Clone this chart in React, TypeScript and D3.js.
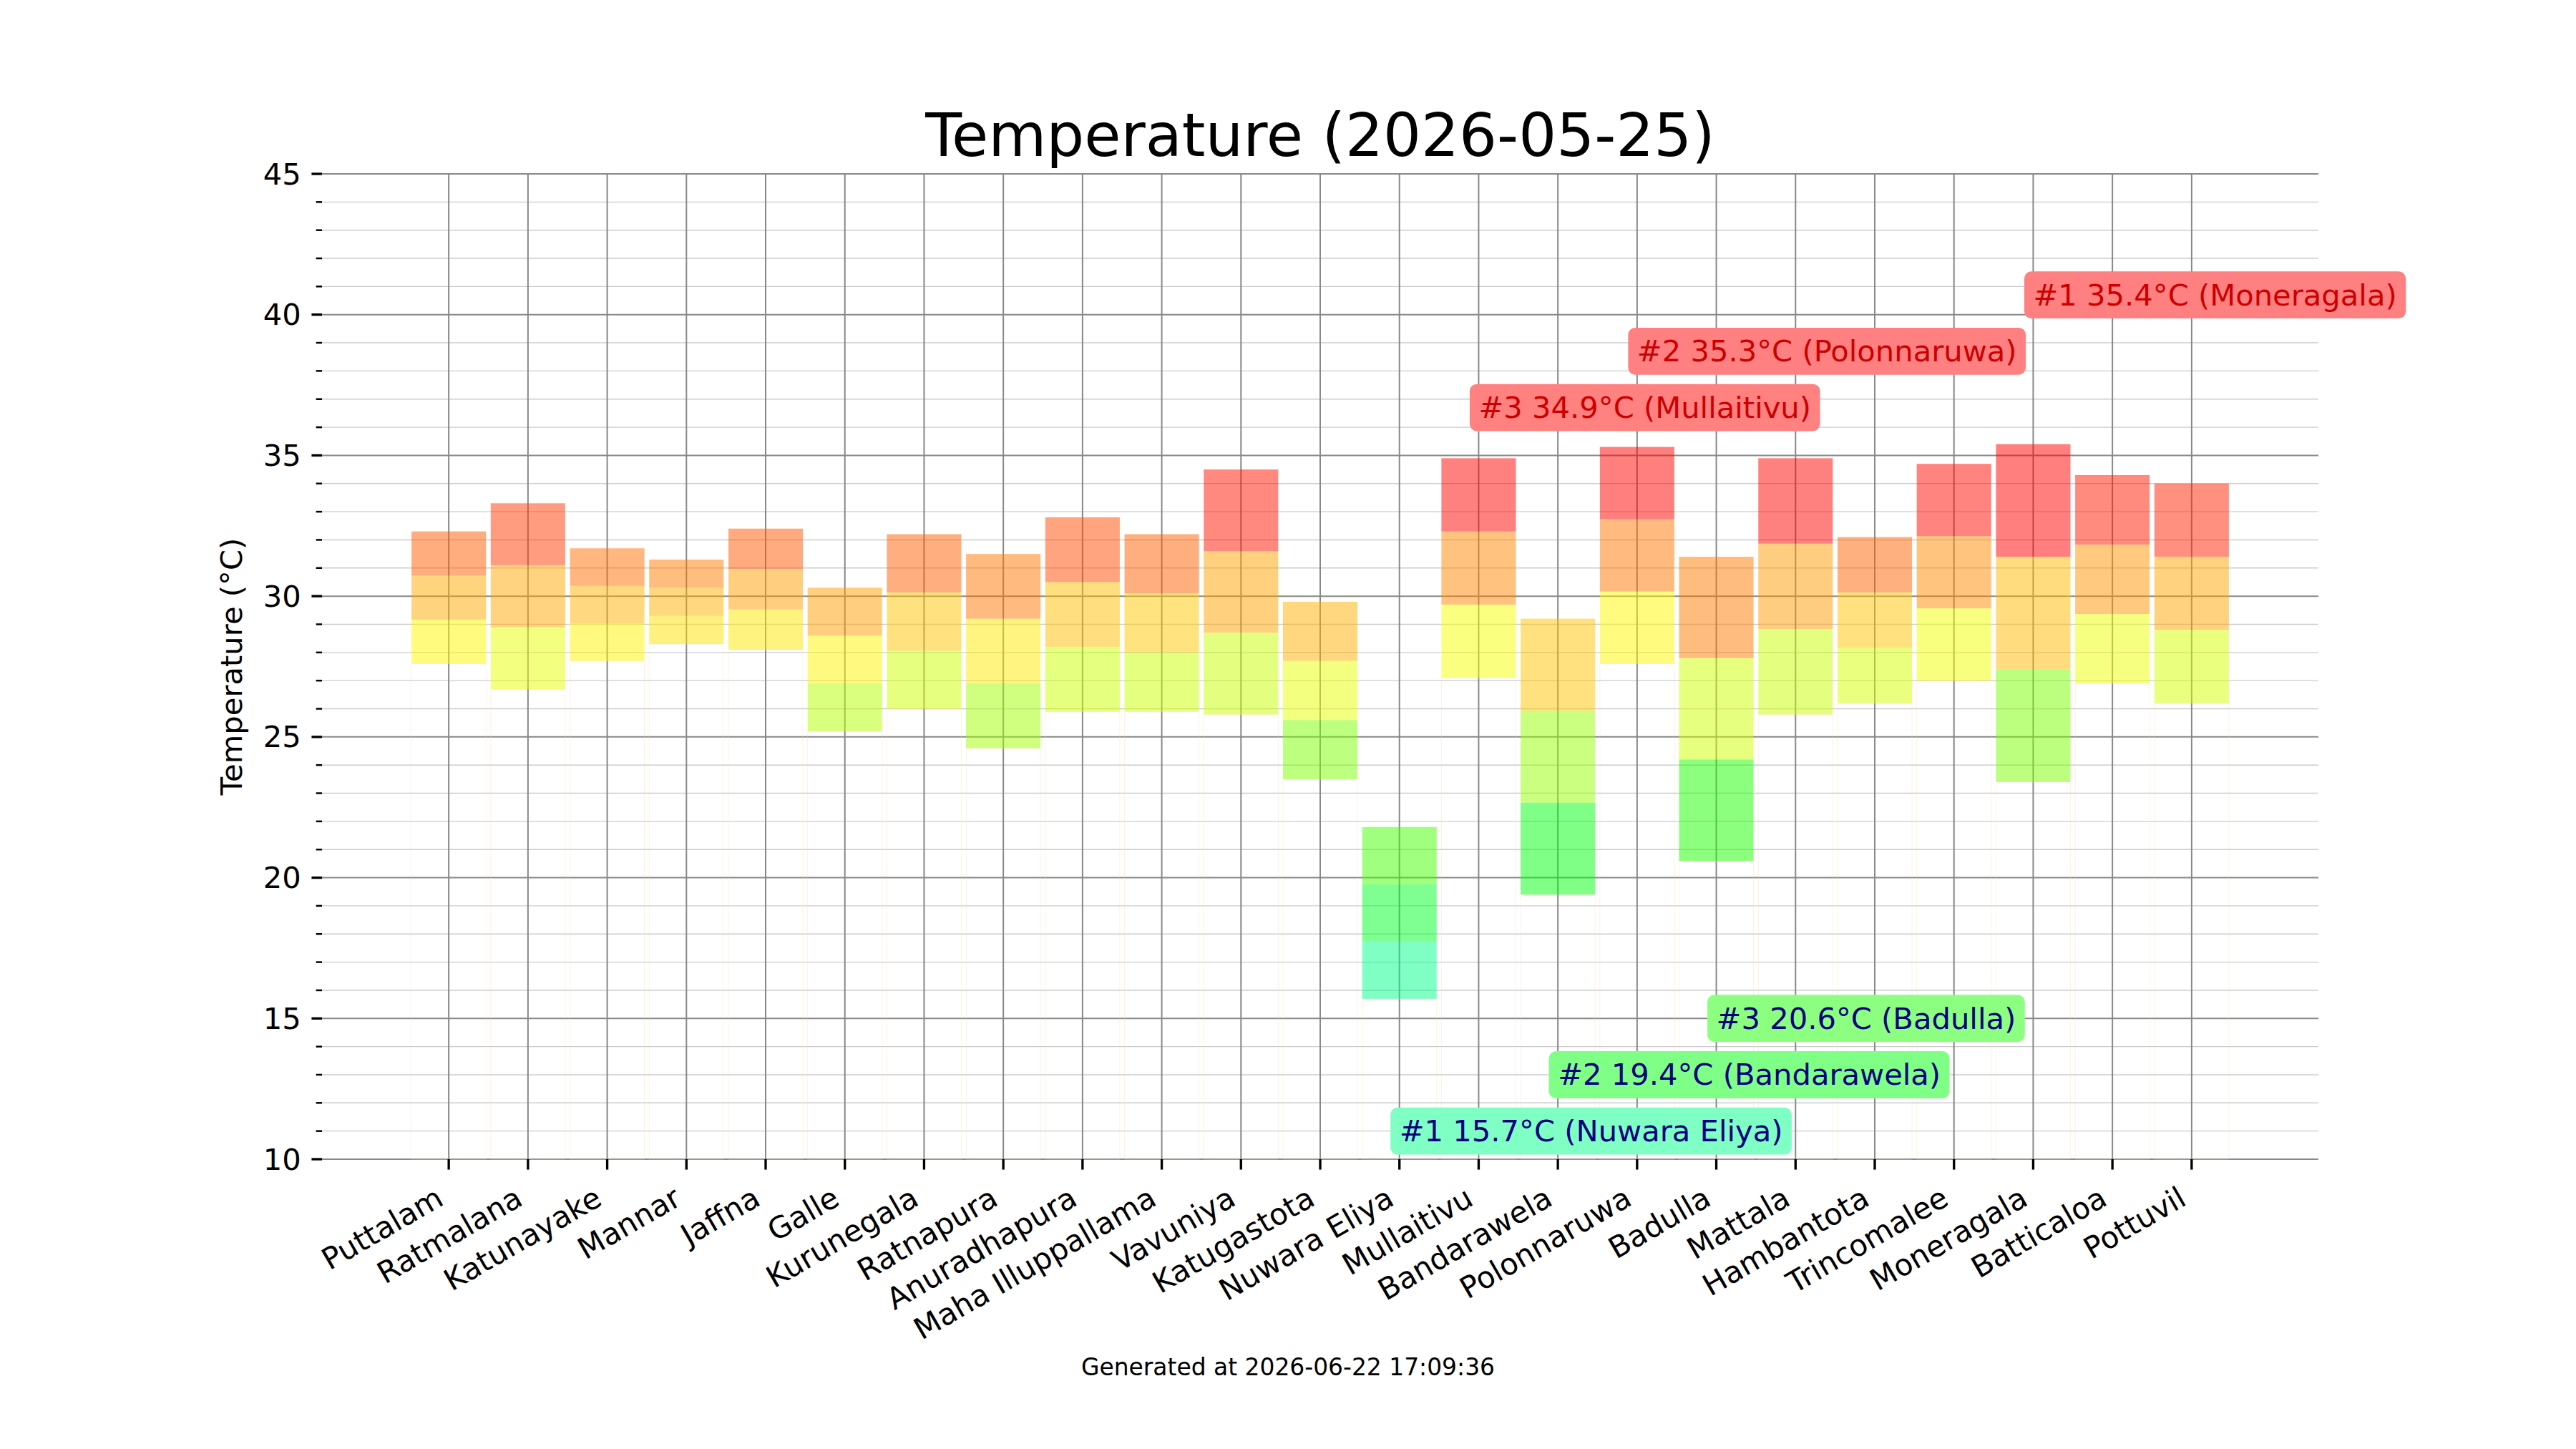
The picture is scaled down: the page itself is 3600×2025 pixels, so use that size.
import { useEffect, useRef } from 'react';
import * as d3 from 'd3';

const stations = [
  'Puttalam', 'Ratmalana', 'Katunayake', 'Mannar', 'Jaffna', 'Galle', 'Kurunegala',
  'Ratnapura', 'Anuradhapura', 'Maha Illuppallama', 'Vavuniya', 'Katugastota',
  'Nuwara Eliya', 'Mullaitivu', 'Bandarawela', 'Polonnaruwa', 'Badulla', 'Mattala',
  'Hambantota', 'Trincomalee', 'Moneragala', 'Batticaloa', 'Pottuvil',
];
const minTemps = [
  27.6, 26.7, 27.7, 28.3, 28.1, 25.2, 26.0, 24.6, 25.9, 25.9, 25.8, 23.5,
  15.7, 27.1, 19.4, 27.6, 20.6, 25.8, 26.2, 27.0, 23.4, 26.9, 26.2,
];
const maxTemps = [
  32.3, 33.3, 31.7, 31.3, 32.4, 30.3, 32.2, 31.5, 32.8, 32.2, 34.5, 29.8,
  21.8, 34.9, 29.2, 35.3, 31.4, 34.9, 32.1, 34.7, 35.4, 34.3, 34.0,
];
const yTicks = [10, 15, 20, 25, 30, 35, 40, 45];
const title = 'Temperature (2026-05-25)';
const yLabel = 'Temperature (°C)';
const footer = 'Generated at 2026-06-22 17:09:36';

const WIDTH = 3600;
const HEIGHT = 2025;
const margin = { top: 243, right: 360, bottom: 405, left: 450 };
const FONT = '"DejaVu Sans", sans-serif';
const PT = 300 / 72;

export default function App() {
  const svgRef = useRef<SVGSVGElement>(null);

  useEffect(() => {
    if (!svgRef.current) return;
    const root = d3.select(svgRef.current);
    root.selectAll('*').remove();

    const innerWidth = WIDTH - margin.left - margin.right;
    const innerHeight = HEIGHT - margin.top - margin.bottom;

    const x = d3.scaleLinear().domain([-1.6, stations.length + 0.6]).range([0, innerWidth]);
    const y = d3.scaleLinear().domain([10, 45]).range([innerHeight, 0]);
    const barW = x(0.94) - x(0);

    // hue runs from red (hot) toward aqua (cold)
    const hue = d3.scaleLinear().domain([35, 10]).range([0, 197.5]).clamp(true);
    const colorOf = (t: number) => d3.hsl(hue(t), 1, 0.5).formatHex();
    const lightOf = (t: number) => d3.hsl(hue(t), 1, 0.75).formatHex();

    root.append('rect').attr('width', WIDTH).attr('height', HEIGHT).attr('fill', '#ffffff');

    const g = root.append('g').attr('transform', `translate(${margin.left},${margin.top})`);

    // grid
    const minorTicks = d3.range(10, 46).filter((v) => v % 5 !== 0);
    g.selectAll('.minor-grid')
      .data(minorTicks)
      .enter()
      .append('line')
      .attr('x1', 0)
      .attr('x2', innerWidth)
      .attr('y1', (d) => y(d))
      .attr('y2', (d) => y(d))
      .attr('stroke', '#cccccc')
      .attr('stroke-width', 1.4);

    g.selectAll('.major-grid')
      .data(yTicks)
      .enter()
      .append('line')
      .attr('x1', 0)
      .attr('x2', innerWidth)
      .attr('y1', (d) => y(d))
      .attr('y2', (d) => y(d))
      .attr('stroke', '#888888')
      .attr('stroke-width', 2);

    g.selectAll('.x-grid')
      .data(stations)
      .enter()
      .append('line')
      .attr('x1', (_, i) => x(i))
      .attr('x2', (_, i) => x(i))
      .attr('y1', 0)
      .attr('y2', innerHeight)
      .attr('stroke', '#888888')
      .attr('stroke-width', 2);

    // faint stems under each bar
    g.selectAll('.stem')
      .data(stations)
      .enter()
      .append('rect')
      .attr('x', (_, i) => x(i) - barW / 2)
      .attr('y', (_, i) => y(minTemps[i]))
      .attr('width', barW)
      .attr('height', (_, i) => innerHeight - y(minTemps[i]))
      .attr('fill', 'none')
      .attr('stroke', '#ffd9a0')
      .attr('stroke-opacity', 0.35)
      .attr('stroke-width', 1);

    // three equal segments: coloured by min, mean and max
    stations.forEach((_, i) => {
      const lo = minTemps[i];
      const hi = maxTemps[i];
      const step = (hi - lo) / 3;
      const tones = [lo, (lo + hi) / 2, hi];
      tones.forEach((t, k) => {
        const a = lo + step * k;
        const b = lo + step * (k + 1);
        g.append('rect')
          .attr('x', x(i) - barW / 2)
          .attr('y', y(b))
          .attr('width', barW)
          .attr('height', y(a) - y(b))
          .attr('fill', colorOf(t))
          .attr('fill-opacity', 0.5);
      });
    });

    // ticks
    g.selectAll('.ytick')
      .data(yTicks)
      .enter()
      .append('line')
      .attr('x1', -3.5 * PT)
      .attr('x2', 0)
      .attr('y1', (d) => y(d))
      .attr('y2', (d) => y(d))
      .attr('stroke', '#000')
      .attr('stroke-width', 0.8 * PT);

    g.selectAll('.ytick-minor')
      .data(minorTicks)
      .enter()
      .append('line')
      .attr('x1', -2 * PT)
      .attr('x2', 0)
      .attr('y1', (d) => y(d))
      .attr('y2', (d) => y(d))
      .attr('stroke', '#000')
      .attr('stroke-width', 0.6 * PT);

    g.selectAll('.ylabel')
      .data(yTicks)
      .enter()
      .append('text')
      .attr('x', -7 * PT)
      .attr('y', (d) => y(d))
      .attr('text-anchor', 'end')
      .attr('dominant-baseline', 'central')
      .attr('font-family', FONT)
      .attr('font-size', 10 * PT)
      .text((d) => d);

    g.selectAll('.xtick')
      .data(stations)
      .enter()
      .append('line')
      .attr('x1', (_, i) => x(i))
      .attr('x2', (_, i) => x(i))
      .attr('y1', innerHeight)
      .attr('y2', innerHeight + 3.5 * PT)
      .attr('stroke', '#000')
      .attr('stroke-width', 0.8 * PT);

    const fs = 10 * PT;
    g.selectAll('.xlabel')
      .data(stations)
      .enter()
      .append('text')
      .attr(
        'transform',
        (_, i) =>
          `translate(${x(i) - 0.12 * fs},${innerHeight + 7 * PT + 0.8 * fs}) rotate(-30)`
      )
      .attr('text-anchor', 'end')
      .attr('font-family', FONT)
      .attr('font-size', fs)
      .text((d) => d);

    // axis label and title
    g.append('text')
      .attr('transform', `translate(${338 - margin.left},${innerHeight / 2}) rotate(-90)`)
      .attr('text-anchor', 'middle')
      .attr('font-family', FONT)
      .attr('font-size', fs)
      .text(yLabel);

    g.append('text')
      .attr('x', innerWidth / 2)
      .attr('y', -6 * PT)
      .attr('text-anchor', 'middle')
      .attr('font-family', FONT)
      .attr('font-size', 20 * PT)
      .text(title);

    // top / bottom three annotations
    const idx = d3.range(stations.length);
    const hottest = [...idx].sort((a, b) => maxTemps[b] - maxTemps[a]).slice(0, 3);
    const coldest = [...idx].sort((a, b) => minTemps[a] - minTemps[b]).slice(0, 3);

    const pad = 0.3 * fs;
    const addLabel = (i: number, rank: number, value: number, level: number, textColor: string) => {
      const lg = g.append('g');
      const box = lg.append('rect');
      const txt = lg
        .append('text')
        .attr('x', x(i))
        .attr('y', y(level))
        .attr('dominant-baseline', 'central')
        .attr('font-family', FONT)
        .attr('font-size', fs)
        .attr('fill', textColor)
        .text(`#${rank} ${value.toFixed(1)}°C (${stations[i]})`);
      const w = (txt.node() as SVGTextElement).getComputedTextLength();
      const h = 0.98 * fs;
      box
        .attr('x', x(i) - pad)
        .attr('y', y(level) - h / 2 - pad)
        .attr('width', w + 2 * pad)
        .attr('height', h + 2 * pad)
        .attr('rx', pad * 0.8)
        .attr('fill', lightOf(value));
    };

    hottest.forEach((i, r) => addLabel(i, r + 1, maxTemps[i], 45 - 4.3 - 2 * r, '#cc0000'));
    coldest.forEach((i, r) => addLabel(i, r + 1, minTemps[i], 11 + 2 * r, '#000080'));

    root
      .append('text')
      .attr('x', WIDTH / 2)
      .attr('y', 1922)
      .attr('text-anchor', 'middle')
      .attr('font-family', FONT)
      .attr('font-size', 7.9 * PT)
      .text(footer);
  }, []);

  return (
    <svg
      ref={svgRef}
      width={WIDTH}
      height={HEIGHT}
      style={{ position: 'absolute', left: 0, top: 0 }}
    />
  );
}
